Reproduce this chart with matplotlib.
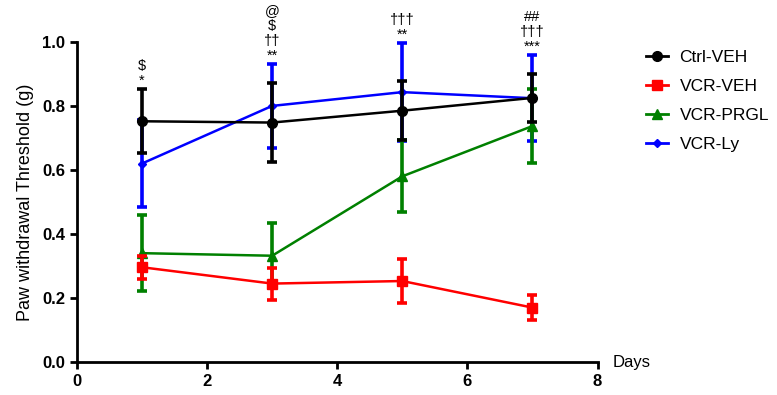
import numpy as np
import matplotlib
matplotlib.use('Agg')
import matplotlib.pyplot as plt
from matplotlib.lines import Line2D

plt.rcParams['font.family'] = ['Liberation Sans', 'DejaVu Sans']

### data
days = [1, 3, 5, 7]
groups = ['Ctrl-VEH', 'VCR-VEH', 'VCR-PRGL', 'VCR-Ly']
ctrl_veh_mean = [0.752, 0.748, 0.785, 0.825]
ctrl_veh_sem = [0.100, 0.123, 0.092, 0.075]
vcr_veh_mean = [0.296, 0.245, 0.253, 0.170]
vcr_veh_sem = [0.036, 0.050, 0.070, 0.040]
vcr_prgl_mean = [0.340, 0.332, 0.580, 0.737]
vcr_prgl_sem = [0.119, 0.102, 0.112, 0.115]
vcr_ly_mean = [0.620, 0.800, 0.843, 0.824]
vcr_ly_sem = [0.137, 0.130, 0.153, 0.135]
sig_marks = [['$', '*'], ['@', '$', '\u2020\u2020', '**'],
             ['\u2020\u2020\u2020', '**'], ['##', '\u2020\u2020\u2020', '***']]

means = [ctrl_veh_mean, vcr_veh_mean, vcr_prgl_mean, vcr_ly_mean]
sems = [ctrl_veh_sem, vcr_veh_sem, vcr_prgl_sem, vcr_ly_sem]
u_colors = ['black', 'red', 'green', 'blue']
u_markers = ['o', 's', '^', 'D']
u_msize = [7, 6.5, 6.5, 4.5]
u_zorder = [6, 5, 4, 3]

fig = plt.figure(figsize=(7.77, 3.95), dpi=100)
ax = fig.add_axes([0.099, 0.0835, 0.670, 0.8105])

for i in range(len(groups)):
    ax.errorbar(days, means[i], yerr=sems[i], color=u_colors[i], marker=u_markers[i],
                markersize=u_msize[i], linewidth=1.8, elinewidth=2.6, capsize=3.5, capthick=2.6,
                zorder=u_zorder[i], clip_on=False)

# significance marks above the highest error bar of each day
for j, d in enumerate(days):
    top = max(m[j] + s[j] for m, s in zip(means, sems))
    ax.annotate('\n'.join(sig_marks[j]), xy=(d, top), xytext=(0, 1), textcoords='offset points',
                ha='center', va='bottom', fontsize=10.5, linespacing=1.08)

ax.set_xlim(0, 8)
ax.set_ylim(0, 1.0)
ax.set_xticks(np.arange(0, 9, 2))
ax.set_yticks(np.arange(0, 1.01, 0.2))
ax.set_yticklabels(['%.1f' % v for v in np.arange(0, 1.01, 0.2)])
for s in ['top', 'right']:
    ax.spines[s].set_visible(False)
for s in ['left', 'bottom']:
    ax.spines[s].set_linewidth(2)
ax.tick_params(axis='both', which='major', width=2, length=5, labelsize=12, direction='out')
for lab in ax.get_xticklabels() + ax.get_yticklabels():
    lab.set_fontweight('bold')
ax.set_ylabel('Paw withdrawal Threshold (g)', fontsize=13, labelpad=6)
ax.annotate('Days', xy=(1, 0), xycoords='axes fraction', xytext=(11, 0), textcoords='offset points',
            ha='left', va='center', fontsize=12)

# legend: plain line + marker
handles = [Line2D([0], [0], color=u_colors[i], marker=u_markers[i], markersize=u_msize[i],
                  linewidth=2) for i in range(len(groups))]
ax.legend(handles, groups, loc='upper left', bbox_to_anchor=(1.064, 1.025), frameon=False, fontsize=12.5,
          handlelength=1.25, handletextpad=0.65, labelspacing=0.8)

plt.savefig('out.png', dpi=100)
